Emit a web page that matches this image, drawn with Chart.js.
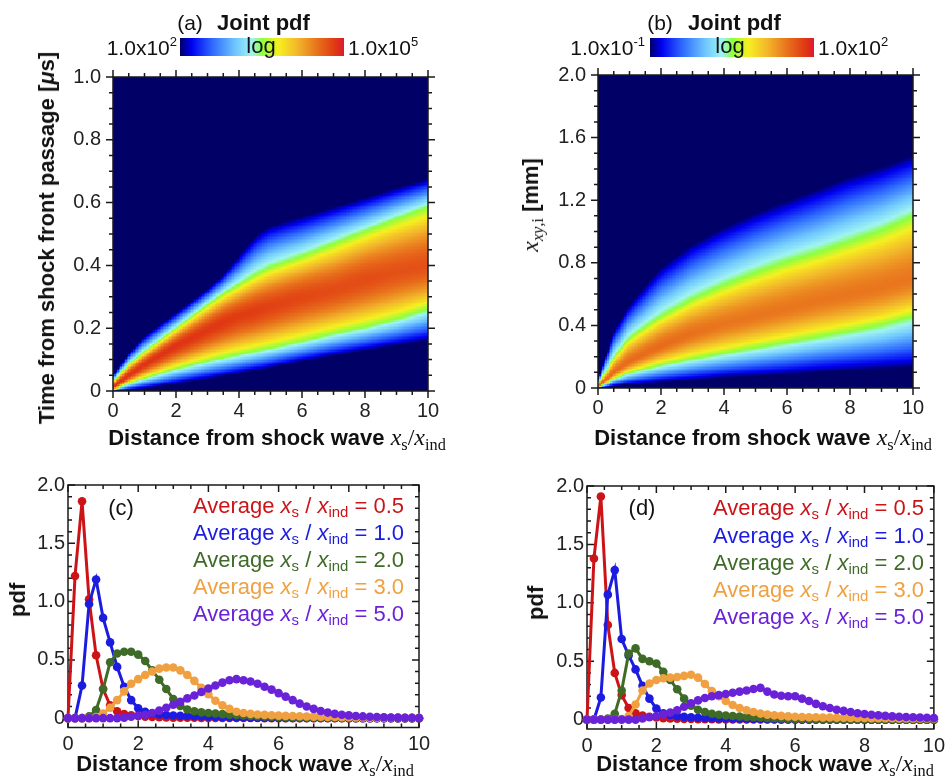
<!DOCTYPE html>
<html>
<head>
<meta charset="utf-8">
<script src="https://cdn.jsdelivr.net/npm/chart.js@4.4.1/dist/chart.umd.min.js"></script>
<style>
  body { margin: 0; background: #fff; }
  #fig { position: relative; width: 950px; height: 776px; overflow: hidden;
         font-family: 'Liberation Sans', Arial, Helvetica, sans-serif; color: #111; }
  #fig canvas { position: absolute; left: 0; top: 0; }
  .t { position: absolute; white-space: nowrap; line-height: 1; }
  .c { transform: translate(-50%, -50%); }
  .r { transform: translate(-100%, -50%); }
  .l { transform: translate(0, -50%); }
  .rot { transform: translate(-50%, -50%) rotate(-90deg); }
  .b { font-weight: bold; }
  .m { font-family: 'Liberation Serif', 'Times New Roman', serif; font-weight: normal; }
  .t sub { font-size: 68%; vertical-align: -0.28em; line-height: 0; }
  .t sup { font-size: 62%; vertical-align: 0.62em; line-height: 0; }
  .cbar { position: absolute; }
</style>
</head>
<body>
<div id="fig">
  <canvas id="pa" width="950" height="776"></canvas>
  <canvas id="pb" width="950" height="776"></canvas>
  <canvas id="pc" width="950" height="776"></canvas>
  <canvas id="pd" width="950" height="776"></canvas>

  <!-- (a) header + colour bar -->
  <div class="t c" style="left:190px;top:22px;font-size:21px">(a)</div>
  <div class="t l b" style="left:217px;top:23px;font-size:22px">Joint pdf</div>
  <div class="cbar" id="cbarA" style="left:180px;top:38px;width:164px;height:18px"></div>
  <div class="t c" style="left:261px;top:46px;font-size:22px">log</div>
  <div class="t r" style="left:177px;top:47px;font-size:21px">1.0x10<sup>2</sup></div>
  <div class="t l" style="left:348px;top:47px;font-size:21px">1.0x10<sup>5</sup></div>

  <!-- (b) header + colour bar -->
  <div class="t c" style="left:660px;top:22px;font-size:21px">(b)</div>
  <div class="t l b" style="left:688px;top:23px;font-size:22px">Joint pdf</div>
  <div class="cbar" id="cbarB" style="left:650px;top:38px;width:164px;height:19px"></div>
  <div class="t c" style="left:730px;top:46px;font-size:22px">log</div>
  <div class="t r" style="left:645px;top:47px;font-size:21px">1.0x10<sup>-1</sup></div>
  <div class="t l" style="left:818px;top:47px;font-size:21px">1.0x10<sup>2</sup></div>

  <!-- axis titles -->
  <div class="t rot b" style="left:47px;top:238px;font-size:22px">Time from shock front passage [<i>μ</i>s]</div>
  <div class="t c b" style="left:277px;top:437px;font-size:22px">Distance from shock wave <span class="m" style="font-size:24px"><i>x</i><sub>s</sub>/<i>x</i><sub>ind</sub></span></div>

  <div class="t rot b" style="left:530px;top:205px;font-size:22px"><span class="m" style="font-size:24px"><i>x</i><sub><i>xy</i>,i</sub></span> [mm]</div>
  <div class="t c b" style="left:763px;top:437px;font-size:22px">Distance from shock wave <span class="m" style="font-size:24px"><i>x</i><sub>s</sub>/<i>x</i><sub>ind</sub></span></div>

  <div class="t rot b" style="left:18px;top:600px;font-size:22px">pdf</div>
  <div class="t c b" style="left:245px;top:763px;font-size:22px">Distance from shock wave <span class="m" style="font-size:24px"><i>x</i><sub>s</sub>/<i>x</i><sub>ind</sub></span></div>

  <div class="t rot b" style="left:536px;top:603px;font-size:22px">pdf</div>
  <div class="t c b" style="left:765px;top:763px;font-size:22px">Distance from shock wave <span class="m" style="font-size:24px"><i>x</i><sub>s</sub>/<i>x</i><sub>ind</sub></span></div>

  <div class="t c" style="left:121px;top:508px;font-size:22px">(c)</div>
  <div class="t c" style="left:642px;top:508px;font-size:22px">(d)</div>
  <div id="legC"></div>
  <div id="legD"></div>
</div>

<script>
// ---- colour scale of the joint pdf maps (log scale) ----
const cmapStops  = [0, 0.07, 0.2, 0.34, 0.44, 0.5, 0.6, 0.72, 0.84, 0.94, 1];
const cmapColors = ['#000066', '#0000f0', '#2f6cff', '#70c8ff', '#a0f4f0', '#8cff40',
                    '#f6f020', '#f2b42a', '#e8701c', '#e03c12', '#dc1a2e'];

// ---- (a) joint pdf: band profile per distance column (time in us) ----
const colsA    = [0, 0.5, 1, 2, 3, 3.5, 4, 4.5, 4.75, 5, 5.5, 6, 7, 8, 9, 10];
const edgeHiA  = [0.05, 0.12, 0.175, 0.25, 0.325, 0.37, 0.43, 0.49, 0.512, 0.527, 0.543, 0.557, 0.587, 0.617, 0.648, 0.677];
const greenHiA = [0.03, 0.085, 0.125, 0.2, 0.275, 0.31, 0.34, 0.37, 0.383, 0.395, 0.413, 0.43, 0.47, 0.51, 0.55, 0.587];
const centerA  = [0.012, 0.05, 0.085, 0.145, 0.195, 0.22, 0.24, 0.255, 0.263, 0.27, 0.285, 0.3, 0.322, 0.355, 0.38, 0.4];
const greenLoA = [0.004, 0.025, 0.042, 0.072, 0.097, 0.108, 0.118, 0.128, 0.133, 0.138, 0.149, 0.16, 0.184, 0.205, 0.23, 0.262];
const edgeLoA  = [0, 0.004, 0.01, 0.024, 0.04, 0.048, 0.057, 0.066, 0.07, 0.075, 0.085, 0.095, 0.113, 0.13, 0.146, 0.162];
const peakA    = [0.96, 0.96, 0.96, 0.96, 0.95, 0.95, 0.94, 0.94, 0.935, 0.93, 0.925, 0.92, 0.91, 0.91, 0.9, 0.9];

// ---- (b) joint pdf: band profile per distance column (x_xy,i in mm) ----
const colsB    = [0, 0.25, 0.5, 1, 2, 3, 4, 5, 6, 7, 8, 9, 10];
const edgeHiB  = [0.05, 0.2, 0.36, 0.53, 0.77, 0.92, 1.03, 1.12, 1.2, 1.275, 1.355, 1.415, 1.49];
const greenHiB = [0.03, 0.1, 0.19, 0.32, 0.46, 0.57, 0.66, 0.74, 0.81, 0.87, 0.94, 1.01, 1.1];
const centerB  = [0.015, 0.05, 0.1, 0.17, 0.27, 0.35, 0.41, 0.46, 0.51, 0.56, 0.6, 0.645, 0.7];
const greenLoB = [0.005, 0.03, 0.06, 0.1, 0.15, 0.19, 0.225, 0.26, 0.295, 0.33, 0.365, 0.405, 0.46];
const edgeLoB  = [0, 0.005, 0.015, 0.025, 0.04, 0.055, 0.07, 0.08, 0.09, 0.105, 0.115, 0.125, 0.135];
const peakB    = [0.85, 0.85, 0.85, 0.85, 0.85, 0.84, 0.83, 0.83, 0.83, 0.83, 0.83, 0.83, 0.83];

// ---- (c), (d) pdf of distance for several average x_s/x_ind ----
const xPdf = [0, 0.2, 0.4, 0.6, 0.8, 1, 1.2, 1.4, 1.6, 1.8,
              2, 2.2, 2.4, 2.6, 2.8, 3, 3.2, 3.4, 3.6, 3.8,
              4, 4.2, 4.4, 4.6, 4.8, 5, 5.2, 5.4, 5.6, 5.8,
              6, 6.2, 6.4, 6.6, 6.8, 7, 7.2, 7.4, 7.6, 7.8,
              8, 8.2, 8.4, 8.6, 8.8, 9, 9.2, 9.4, 9.6, 9.8, 10];
const avgLabels = ['0.5', '1.0', '2.0', '3.0', '5.0'];
const seriesColors = ['#cc1418', '#1c1ce0', '#3e6b28', '#f0a040', '#6a22d8'];

const pdfC05 = [0, 1.22, 1.86, 1.02, 0.54, 0.25, 0.11, 0.06, 0.035, 0.025,
                0.018, 0.013, 0.01, 0.008, 0.006, 0.005, 0.004, 0.003, 0.003, 0.002,
                0.002, 0.002, 0.001, 0.001, 0.001, 0.001, 0.001, 0.001, 0, 0,
                0, 0, 0, 0, 0, 0, 0, 0, 0, 0,
                0, 0, 0, 0, 0, 0, 0, 0, 0, 0, 0];
const pdfC10 = [0, 0, 0.28, 0.98, 1.19, 0.86, 0.65, 0.44, 0.27, 0.155,
                0.085, 0.055, 0.04, 0.032, 0.027, 0.023, 0.02, 0.018, 0.016, 0.014,
                0.012, 0.01, 0.009, 0.008, 0.007, 0.006, 0.005, 0.004, 0.004, 0.003,
                0.003, 0.002, 0.002, 0.002, 0.001, 0.001, 0.001, 0.001, 0.001, 0.001,
                0, 0, 0, 0, 0, 0, 0, 0, 0, 0, 0];
const pdfC20 = [0, 0, 0, 0.015, 0.07, 0.25, 0.48, 0.555, 0.57, 0.57,
                0.545, 0.49, 0.41, 0.33, 0.25, 0.165, 0.105, 0.075, 0.06, 0.05,
                0.045, 0.04, 0.035, 0.03, 0.027, 0.024, 0.02, 0.017, 0.014, 0.012,
                0.01, 0.008, 0.007, 0.006, 0.005, 0.004, 0.004, 0.003, 0.003, 0.002,
                0.002, 0.002, 0.001, 0.001, 0.001, 0.001, 0.001, 0, 0, 0, 0];
const pdfC30 = [0, 0, 0, 0, 0.01, 0.04, 0.09, 0.155, 0.23, 0.295,
                0.335, 0.37, 0.4, 0.425, 0.435, 0.435, 0.41, 0.37, 0.32, 0.26,
                0.205, 0.15, 0.11, 0.08, 0.055, 0.045, 0.037, 0.032, 0.028, 0.025,
                0.022, 0.02, 0.018, 0.016, 0.014, 0.013, 0.012, 0.011, 0.01, 0.009,
                0.008, 0.007, 0.006, 0.005, 0.005, 0.004, 0.004, 0.003, 0.003, 0.003, 0.003];
const pdfC50 = [0, 0, 0, 0, 0, 0, 0, 0, 0.005, 0.012,
                0.02, 0.03, 0.045, 0.065, 0.09, 0.115, 0.14, 0.17, 0.195, 0.225,
                0.255, 0.28, 0.305, 0.325, 0.335, 0.325, 0.315, 0.295, 0.27, 0.245,
                0.215, 0.185, 0.155, 0.125, 0.1, 0.08, 0.062, 0.048, 0.037, 0.03,
                0.024, 0.019, 0.015, 0.012, 0.01, 0.008, 0.006, 0.005, 0.004, 0.003, 0.002];

const pdfD05 = [0, 1.38, 1.91, 0.81, 0.4, 0.21, 0.1, 0.055, 0.035, 0.025,
                0.018, 0.013, 0.01, 0.008, 0.006, 0.005, 0.004, 0.003, 0.003, 0.002,
                0.002, 0.002, 0.001, 0.001, 0.001, 0.001, 0.001, 0.001, 0, 0,
                0, 0, 0, 0, 0, 0, 0, 0, 0, 0,
                0, 0, 0, 0, 0, 0, 0, 0, 0, 0, 0];
const pdfD10 = [0, 0, 0.19, 1.07, 1.28, 0.69, 0.55, 0.43, 0.29, 0.18,
                0.095, 0.055, 0.04, 0.03, 0.024, 0.02, 0.017, 0.015, 0.013, 0.011,
                0.01, 0.009, 0.008, 0.007, 0.006, 0.005, 0.004, 0.004, 0.003, 0.003,
                0.002, 0.002, 0.002, 0.001, 0.001, 0.001, 0.001, 0.001, 0.001, 0.001,
                0, 0, 0, 0, 0, 0, 0, 0, 0, 0, 0];
const pdfD20 = [0, 0, 0, 0.01, 0.05, 0.25, 0.565, 0.61, 0.52, 0.5,
                0.48, 0.41, 0.34, 0.26, 0.18, 0.12, 0.085, 0.065, 0.05, 0.042,
                0.036, 0.031, 0.027, 0.024, 0.021, 0.018, 0.015, 0.012, 0.01, 0.008,
                0.007, 0.006, 0.005, 0.004, 0.004, 0.003, 0.003, 0.002, 0.002, 0.002,
                0.001, 0.001, 0.001, 0.001, 0.001, 0, 0, 0, 0, 0, 0];
const pdfD30 = [0, 0, 0, 0, 0, 0.005, 0.03, 0.13, 0.25, 0.31,
                0.34, 0.355, 0.36, 0.365, 0.375, 0.385, 0.36, 0.305, 0.245, 0.2,
                0.16, 0.125, 0.1, 0.08, 0.065, 0.052, 0.043, 0.037, 0.032, 0.028,
                0.025, 0.023, 0.021, 0.02, 0.019, 0.018, 0.017, 0.016, 0.015, 0.014,
                0.014, 0.013, 0.013, 0.012, 0.012, 0.011, 0.011, 0.01, 0.01, 0.01, 0.01];
const pdfD50 = [0, 0, 0, 0, 0, 0, 0, 0, 0.01, 0.02,
                0.03, 0.045, 0.06, 0.08, 0.11, 0.14, 0.165, 0.185, 0.2, 0.21,
                0.22, 0.23, 0.24, 0.25, 0.262, 0.272, 0.24, 0.215, 0.205, 0.2,
                0.2, 0.18, 0.16, 0.135, 0.115, 0.1, 0.085, 0.075, 0.065, 0.055,
                0.048, 0.042, 0.037, 0.032, 0.028, 0.025, 0.022, 0.02, 0.018, 0.016, 0.014];

const FONT = "'Liberation Sans', Arial, Helvetica, sans-serif";
const Y_AXIS_W = 60, X_AXIS_H = 40, PAGE_W = 950, PAGE_H = 776;

function hexRgb(h){ const n = parseInt(h.slice(1), 16); return [(n >> 16) & 255, (n >> 8) & 255, n & 255]; }
const cmapRgb = cmapColors.map(hexRgb);

function cmap(v){
    v = Math.max(0, Math.min(1, v));
    for (let i = 1; i < cmapStops.length; i++) {
        if (v <= cmapStops[i]) {
            const t = (v - cmapStops[i-1]) / (cmapStops[i] - cmapStops[i-1]);
            const a = cmapRgb[i-1], b = cmapRgb[i];
            return `rgb(${Math.round(a[0]+(b[0]-a[0])*t)},${Math.round(a[1]+(b[1]-a[1])*t)},${Math.round(a[2]+(b[2]-a[2])*t)})`;
        }
    }
    return cmapColors[cmapColors.length - 1];
}

// value of a column table at distance x (linear between the tabulated columns)
function colValue(cols, vals, x){
    if (x <= cols[0]) return vals[0];
    for (let i = 1; i < cols.length; i++) {
        if (x <= cols[i]) {
            const t = (x - cols[i-1]) / (cols[i] - cols[i-1]);
            return vals[i-1] + (vals[i] - vals[i-1]) * t;
        }
    }
    return vals[vals.length - 1];
}

// colour level inside one column: 0 at the band edges, 0.5 on the green lines, peak at the centre
function bandLevel(p, y){
    if (y <= p.eLo || y >= p.eHi) return 0;
    const ease = t => 1 - Math.pow(1 - t, 1.7);
    if (y < p.gLo) return 0.5 * (y - p.eLo) / (p.gLo - p.eLo);
    if (y < p.c)   return 0.5 + (p.peak - 0.5) * ease((y - p.gLo) / (p.c - p.gLo));
    if (y < p.gHi) return 0.5 + (p.peak - 0.5) * ease((p.gHi - y) / (p.gHi - p.c));
    return 0.5 * (p.eHi - y) / (p.eHi - p.gHi);
}

function heatPlugin(f){
    return {
        id: 'heat',
        beforeDatasetsDraw(chart){
            const { ctx, chartArea: a, scales: { x: sx, y: sy } } = chart;
            ctx.save();
            ctx.beginPath();
            ctx.rect(a.left, a.top, a.right - a.left, a.bottom - a.top);
            ctx.clip();
            const nx = 200, ny = 220;
            for (let i = 0; i < nx; i++) {
                const x0 = sx.min + (sx.max - sx.min) * i / nx;
                const x1 = sx.min + (sx.max - sx.min) * (i + 1) / nx;
                const xm = (x0 + x1) / 2;
                const p = {
                    eLo: colValue(f.cols, f.eLo, xm), gLo: colValue(f.cols, f.gLo, xm),
                    c: colValue(f.cols, f.c, xm), gHi: colValue(f.cols, f.gHi, xm),
                    eHi: colValue(f.cols, f.eHi, xm), peak: colValue(f.cols, f.peak, xm)
                };
                const px0 = Math.floor(sx.getPixelForValue(x0));
                const px1 = Math.ceil(sx.getPixelForValue(x1));
                for (let j = 0; j < ny; j++) {
                    const y0 = sy.min + (sy.max - sy.min) * j / ny;
                    const y1 = sy.min + (sy.max - sy.min) * (j + 1) / ny;
                    ctx.fillStyle = cmap(bandLevel(p, (y0 + y1) / 2));
                    const pyTop = Math.floor(sy.getPixelForValue(y1));
                    const pyBot = Math.ceil(sy.getPixelForValue(y0));
                    ctx.fillRect(px0, pyTop, px1 - px0, pyBot - pyTop);
                }
            }
            ctx.restore();
        }
    };
}

// box around the plot plus major/minor tick marks on all four sides
function frameTicks(o){
    return {
        id: 'frameTicks',
        beforeDatasetsDraw(chart){
            const { ctx, chartArea: a, scales: { x: sx, y: sy } } = chart;
            const d = o.outward ? -1 : 1;
            ctx.save();
            ctx.strokeStyle = '#1a1a1a';
            ctx.lineWidth = 1.5;
            ctx.beginPath();
            const xMarks = (v, len) => {
                const px = sx.getPixelForValue(v);
                ctx.moveTo(px, a.bottom); ctx.lineTo(px, a.bottom - d * len);
                ctx.moveTo(px, a.top); ctx.lineTo(px, a.top + d * len);
            };
            const yMarks = (v, len) => {
                const py = sy.getPixelForValue(v);
                ctx.moveTo(a.left, py); ctx.lineTo(a.left + d * len, py);
                ctx.moveTo(a.right, py); ctx.lineTo(a.right - d * len, py);
            };
            for (let v = o.x0; v <= sx.max + 1e-9; v += o.xMinor) xMarks(v, 4);
            for (let v = o.y0; v <= sy.max + 1e-9; v += o.yMinor) yMarks(v, 4);
            sx.ticks.forEach(t => xMarks(t.value, 7));
            sy.ticks.forEach(t => yMarks(t.value, 7));
            ctx.stroke();
            ctx.strokeRect(a.left, a.top, a.right - a.left, a.bottom - a.top);
            ctx.restore();
        }
    };
}

function axis(min, max, step, fmt, pad, isX){
    return {
        type: 'linear', min, max,
        grid: { display: false, drawTicks: false },
        border: { display: false },
        ticks: {
            stepSize: step, includeBounds: false, padding: pad, color: '#222',
            maxRotation: 0, autoSkip: false,
            font: { family: FONT, size: 20 }, callback: fmt
        },
        afterFit: s => { if (isX) { s.height = X_AXIS_H; } else { s.width = Y_AXIS_W; } }
    };
}

const fmtInt = v => String(Math.round(v));
const fmtOne = v => Math.abs(v) < 1e-9 ? '0' : v.toFixed(1);

function layoutFor(box){
    return { padding: { left: box.l - Y_AXIS_W, top: box.t, right: PAGE_W - box.r, bottom: PAGE_H - box.b - X_AXIS_H } };
}

function heatChart(id, box, field, yMax, yStep, yMinor){
    return new Chart(document.getElementById(id), {
        type: 'scatter',
        data: { datasets: [] },
        options: {
            responsive: false, animation: false, devicePixelRatio: 1,
            layout: layoutFor(box),
            plugins: { legend: { display: false }, tooltip: { enabled: false } },
            scales: {
                x: axis(0, 10, 2, fmtInt, 8, true),
                y: axis(0, yMax, yStep, fmtOne, 12, false)
            }
        },
        plugins: [heatPlugin(field), frameTicks({ outward: true, x0: 0, xMinor: 0.5, y0: 0, yMinor })]
    });
}

function pdfChart(id, box, series){
    const datasets = series.map((vals, k) => ({
        data: vals.map((v, i) => ({ x: xPdf[i], y: v })),
        borderColor: seriesColors[k],
        backgroundColor: seriesColors[k],
        pointBackgroundColor: seriesColors[k],
        borderWidth: 3, pointRadius: 4.3, pointBorderWidth: 0,
        tension: 0, clip: false,
        order: series.length - k
    }));
    return new Chart(document.getElementById(id), {
        type: 'line',
        data: { datasets },
        options: {
            responsive: false, animation: false, devicePixelRatio: 1,
            layout: layoutFor(box),
            plugins: { legend: { display: false }, tooltip: { enabled: false } },
            scales: {
                x: axis(0, 10, 2, fmtInt, 5, true),
                y: axis(-0.08, 2, 0.5, fmtOne, 3, false)
            }
        },
        plugins: [frameTicks({ outward: false, x0: 0, xMinor: 0.5, y0: 0, yMinor: 0.1 })]
    });
}

heatChart('pa', { l: 113, t: 77, r: 428, b: 391 },
    { cols: colsA, eLo: edgeLoA, gLo: greenLoA, c: centerA, gHi: greenHiA, eHi: edgeHiA, peak: peakA },
    1.0, 0.2, 0.05);
heatChart('pb', { l: 598, t: 75, r: 913, b: 388 },
    { cols: colsB, eLo: edgeLoB, gLo: greenLoB, c: centerB, gHi: greenHiB, eHi: edgeHiB, peak: peakB },
    2.0, 0.4, 0.1);
pdfChart('pc', { l: 68, t: 485, r: 419, b: 727.5 }, [pdfC05, pdfC10, pdfC20, pdfC30, pdfC50]);
pdfChart('pd', { l: 587, t: 486, r: 938, b: 729 }, [pdfD05, pdfD10, pdfD20, pdfD30, pdfD50]);

// colour bars use the same colour scale as the maps
const grad = 'linear-gradient(to right,' + cmapColors.map((c, i) => `${c} ${cmapStops[i] * 100}%`).join(',') + ')';
document.getElementById('cbarA').style.background = grad;
document.getElementById('cbarB').style.background = grad;

// legend text for the two pdf panels
function legend(id, right, ys){
    const host = document.getElementById(id);
    avgLabels.forEach((lab, k) => {
        const el = document.createElement('div');
        el.className = 't r';
        el.style.cssText = `left:${right}px;top:${ys[k]}px;font-size:22px;color:${seriesColors[k]}`;
        el.innerHTML = `Average <i>x</i><sub>s</sub> / <i>x</i><sub>ind</sub> = ${lab}`;
        host.appendChild(el);
    });
}
legend('legC', 404, [506, 533, 560, 587, 614]);
legend('legD', 924, [508, 536, 563, 590, 617]);
</script>
</body>
</html>
